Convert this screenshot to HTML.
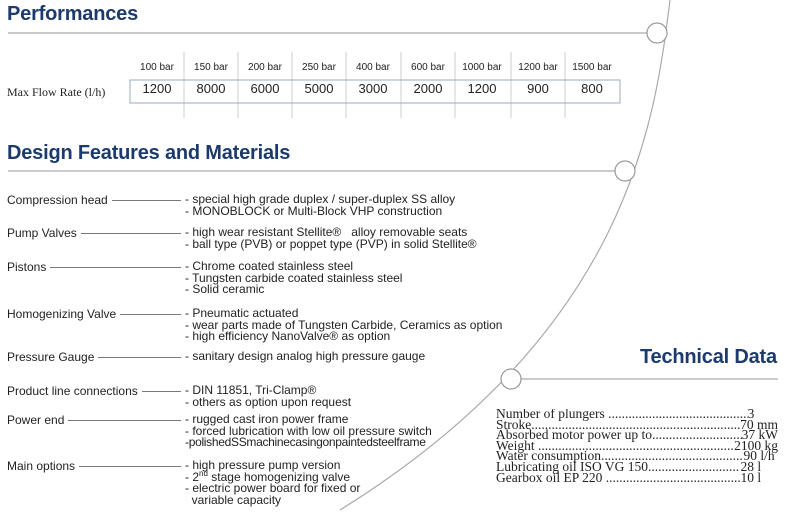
<!DOCTYPE html>
<html><head><meta charset="utf-8"><style>
body{margin:0;width:800px;height:517px;background:#fff;position:relative;overflow:hidden;font-family:"Liberation Sans",sans-serif;color:#222}
.a{position:absolute;white-space:nowrap}
h1{position:absolute;margin:0;font-size:20px;font-weight:bold;color:#1c3a6b;letter-spacing:-0.2px}
.lbl{position:absolute;left:7px;font-size:12px;white-space:nowrap;display:flex;align-items:center;width:178px}
.lbl i{flex:1;border-top:1px solid #777;margin:0 4px 0 4px;height:0}
.txt{position:absolute;left:185px;font-size:12px;line-height:11.5px;white-space:nowrap;letter-spacing:0px}
.hd{position:absolute;top:62px;font-size:10px;width:54px;text-align:center}
.v{position:absolute;top:81px;font-size:13px;width:54px;text-align:center}
.td{position:absolute;left:496px;width:282px;font-family:"Liberation Serif",serif;font-size:13.5px;line-height:10.6px;white-space:nowrap;overflow:hidden}
.td div{display:flex}
.td span{flex:none}
.td span.d{flex:1 1 0;min-width:0;overflow:hidden}
</style></head><body>
<svg class="a" style="left:0;top:0" width="800" height="517">
<g fill="none" stroke="#aaa" stroke-width="1.2">
<path d="M670,0 C655,120 630,330 340,510"/>
<line x1="8" y1="33" x2="647" y2="33"/>
<line x1="8" y1="171" x2="615" y2="171"/>
<line x1="521" y1="379" x2="778" y2="379"/>
</g>
<g fill="#fff" stroke="#999" stroke-width="1.2">
<circle cx="657" cy="33" r="10"/><circle cx="625" cy="171" r="10"/><circle cx="511" cy="379" r="10"/>
</g>
<g stroke="#ccc" stroke-width="1">
<line x1="184" y1="52" x2="184" y2="118"/><line x1="238" y1="52" x2="238" y2="118"/><line x1="292" y1="52" x2="292" y2="118"/><line x1="346" y1="52" x2="346" y2="118"/><line x1="401" y1="52" x2="401" y2="118"/><line x1="455" y1="52" x2="455" y2="118"/><line x1="511" y1="52" x2="511" y2="118"/><line x1="565" y1="52" x2="565" y2="118"/>
</g>
<rect x="130" y="80" width="490" height="23" fill="none" stroke="#9ab" stroke-width="1"/>
</svg>
<h1 style="left:7px;top:3px">Performances</h1>
<h1 style="left:7px;top:142px">Design Features and Materials</h1>
<h1 style="left:640px;top:346px">Technical Data</h1>
<div class="a" style="left:7px;top:85px;font-family:'Liberation Serif',serif;font-size:12px">Max Flow Rate (l/h)</div>
<div class="hd" style="left:130px">100 bar</div><div class="hd" style="left:184px">150 bar</div><div class="hd" style="left:238px">200 bar</div><div class="hd" style="left:292px">250 bar</div><div class="hd" style="left:346px">400 bar</div><div class="hd" style="left:401px">600 bar</div><div class="hd" style="left:455px">1000 bar</div><div class="hd" style="left:511px">1200 bar</div><div class="hd" style="left:565px">1500 bar</div>
<div class="v" style="left:130px">1200</div><div class="v" style="left:184px">8000</div><div class="v" style="left:238px">6000</div><div class="v" style="left:292px">5000</div><div class="v" style="left:346px">3000</div><div class="v" style="left:401px">2000</div><div class="v" style="left:455px">1200</div><div class="v" style="left:511px">900</div><div class="v" style="left:565px">800</div>

<div class="lbl" style="top:193px">Compression head<i></i></div>
<div class="txt" style="top:194px">- special high grade duplex / super-duplex SS alloy<br>- MONOBLOCK or Multi-Block VHP construction</div>
<div class="lbl" style="top:226px">Pump Valves<i></i></div>
<div class="txt" style="top:227px">- high wear resistant Stellite®&nbsp;&nbsp; alloy removable seats<br>- ball type (PVB) or poppet type (PVP) in solid Stellite®</div>
<div class="lbl" style="top:260px">Pistons<i></i></div>
<div class="txt" style="top:261px">- Chrome coated stainless steel<br>- Tungsten carbide coated stainless steel<br>- Solid ceramic</div>
<div class="lbl" style="top:307px">Homogenizing Valve<i></i></div>
<div class="txt" style="top:308px">- Pneumatic actuated<br>- wear parts made of Tungsten Carbide, Ceramics as option<br>- high efficiency NanoValve® as option</div>
<div class="lbl" style="top:350px">Pressure Gauge<i></i></div>
<div class="txt" style="top:351px">- sanitary design analog high pressure gauge</div>
<div class="lbl" style="top:384px">Product line connections<i></i></div>
<div class="txt" style="top:385px">- DIN 11851, Tri-Clamp®<br>- others as option upon request</div>
<div class="lbl" style="top:413px">Power end<i></i></div>
<div class="txt" style="top:414px">- rugged cast iron power frame<br>- forced lubrication with low oil pressure switch<br><span style="letter-spacing:-0.3px">-polishedSSmachinecasingonpaintedsteelframe</span></div>
<div class="lbl" style="top:459px">Main options<i></i></div>
<div class="txt" style="top:460px">- high pressure pump version<br>- 2<sup style="font-size:8px;line-height:0">nd</sup> stage homogenizing valve<br>- electric power board for fixed or<br>&nbsp;&nbsp;variable capacity</div>

<div class="td" style="top:409px">
<div><span>Number of plungers&nbsp;</span><span class="d">.......................................................................</span><span>3&nbsp;&nbsp;&nbsp;&nbsp;&nbsp;&nbsp;&nbsp;</span></div>
<div><span>Stroke</span><span class="d">..............................................................................</span><span>70 mm</span></div>
<div><span>Absorbed motor power up to</span><span class="d">....................................................</span><span>37 kW</span></div>
<div><span>Weight&nbsp;</span><span class="d">..............................................................................</span><span>2100 kg</span></div>
<div><span>Water consumption</span><span class="d">..................................................................</span><span>90 l/h&nbsp;</span></div>
<div><span>Lubricating oil ISO VG 150</span><span class="d">...........................................................</span><span>28 l&nbsp;&nbsp;&nbsp;&nbsp;&nbsp;</span></div>
<div><span>Gearbox oil EP 220&nbsp;</span><span class="d">.....................................................................</span><span>10 l&nbsp;&nbsp;&nbsp;&nbsp;&nbsp;</span></div>
</div>
</body></html>
